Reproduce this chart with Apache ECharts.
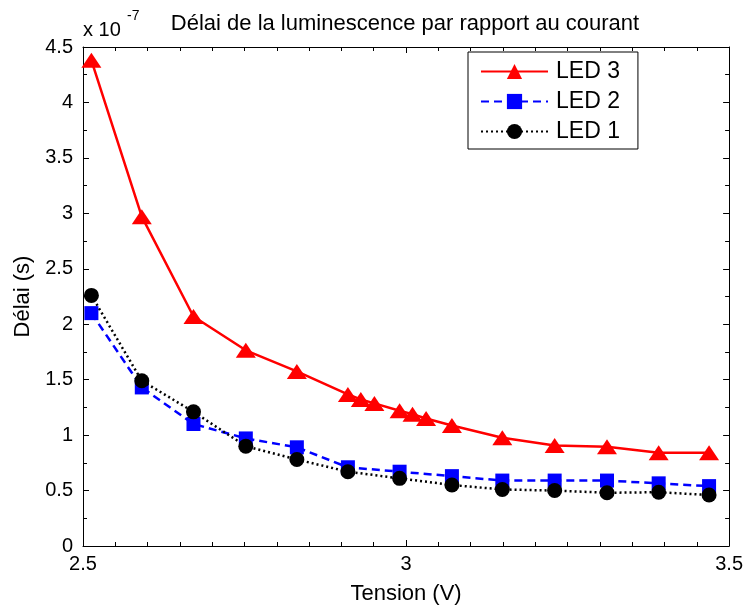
<!DOCTYPE html>
<html>
<head>
<meta charset="utf-8">
<script src="https://cdn.jsdelivr.net/npm/echarts@6/dist/echarts.min.js"></script>
<style>
html,body{margin:0;padding:0;background:#fff;}
#chart{width:746px;height:610px;}
</style>
</head>
<body>
<div id="chart"></div>
<script>
// Data (delay in units of 1e-7 s)
const tensionLed12 = [2.513, 2.591, 2.671, 2.752, 2.831, 2.910, 2.990, 3.071, 3.149, 3.230, 3.311, 3.391, 3.469];
const led1 = [2.26, 1.49, 1.21, 0.90, 0.78, 0.67, 0.61, 0.55, 0.51, 0.50, 0.48, 0.485, 0.46];
const led2 = [2.10, 1.43, 1.10, 0.97, 0.89, 0.71, 0.67, 0.63, 0.59, 0.59, 0.59, 0.565, 0.54];
const tensionLed3 = [2.513, 2.591, 2.671, 2.752, 2.831, 2.910, 2.930, 2.951, 2.990, 3.010, 3.031, 3.071, 3.149, 3.230, 3.311, 3.391, 3.469];
const led3 = [4.38, 2.97, 2.07, 1.765, 1.574, 1.367, 1.322, 1.286, 1.22, 1.189, 1.15, 1.086, 0.976, 0.906, 0.894, 0.84, 0.84];
const seriesNames = ['LED 3', 'LED 2', 'LED 1'];
const titleText = 'Délai de la luminescence par rapport au courant';
const xName = 'Tension (V)';
const yName = 'Délai (s)';

const FONT = '"Liberation Sans", Arial, Helvetica, sans-serif';
const pairs = (xs, ys) => xs.map((x, i) => [x, ys[i]]);

const chart = echarts.init(document.getElementById('chart'), null, {renderer: 'canvas'});

const axisCommon = {
  axisLine: {show: true, onZero: false, lineStyle: {color: '#000', width: 1}},
  axisTick: {show: true, inside: true, length: 6, lineStyle: {color: '#000', width: 1}},
  minorTick: {show: true, length: 4, lineStyle: {color: '#000', width: 1}},
  splitLine: {show: false},
};

const option = {
  animation: false,
  backgroundColor: '#fff',
  textStyle: {fontFamily: FONT},
  grid: {left: 83, right: 16, top: 47, bottom: 63, containLabel: false},
  graphic: [
    {type: 'text', x: 405, y: 23.5, style: {text: titleText, font: '22px ' + FONT, fill: '#000', align: 'center', verticalAlign: 'middle'}},
    {type: 'text', x: 83, y: 30.5, style: {text: 'x 10', font: '20px ' + FONT, fill: '#000', align: 'left', verticalAlign: 'middle'}},
    {type: 'text', x: 127, y: 16.5, style: {text: '-7', font: '14px ' + FONT, fill: '#000', align: 'left', verticalAlign: 'middle'}}
  ],
  legend: {
    data: seriesNames,
    orient: 'vertical',
    left: 468,
    top: 52,
    padding: [8, 18, 6, 12],
    itemGap: 7,
    itemWidth: 67,
    itemHeight: 19,
    borderColor: '#000',
    borderWidth: 1,
    borderRadius: 0,
    backgroundColor: '#fff',
    textStyle: {fontSize: 23, color: '#000', fontFamily: FONT, padding: [0, 0, 0, 3]}
  },
  xAxis: [
    Object.assign({}, axisCommon, {
      type: 'value', position: 'bottom', min: 2.5, max: 3.5, interval: 0.5,
      minorTick: Object.assign({}, axisCommon.minorTick, {splitNumber: 10}),
      axisLabel: {show: true, fontSize: 20, color: '#000', margin: 8, fontFamily: FONT, showMinLabel: true, showMaxLabel: true},
      name: xName, nameLocation: 'middle', nameGap: 37,
      nameTextStyle: {fontSize: 22, color: '#000', fontFamily: FONT}
    }),
    Object.assign({}, axisCommon, {
      type: 'value', position: 'top', min: 2.5, max: 3.5, interval: 0.5,
      minorTick: Object.assign({}, axisCommon.minorTick, {splitNumber: 10}),
      axisLabel: {show: false}
    })
  ],
  yAxis: [
    Object.assign({}, axisCommon, {
      type: 'value', position: 'left', min: 0, max: 4.5, interval: 0.5,
      minorTick: Object.assign({}, axisCommon.minorTick, {splitNumber: 2}),
      axisLabel: {show: true, fontSize: 20, color: '#000', margin: 10, fontFamily: FONT},
      name: yName, nameLocation: 'middle', nameGap: 45,
      nameTextStyle: {fontSize: 22, color: '#000', fontFamily: FONT}
    }),
    Object.assign({}, axisCommon, {
      type: 'value', position: 'right', min: 0, max: 4.5, interval: 0.5,
      minorTick: Object.assign({}, axisCommon.minorTick, {splitNumber: 2}),
      axisLabel: {show: false}
    })
  ],
  series: [
    {
      name: seriesNames[0], type: 'line', xAxisIndex: 0, yAxisIndex: 0,
      data: pairs(tensionLed3, led3),
      symbol: 'triangle', symbolSize: [20, 15],
      lineStyle: {color: '#ff0000', width: 2.5, type: 'solid'},
      itemStyle: {color: '#ff0000', borderWidth: 0},
      z: 2
    },
    {
      name: seriesNames[1], type: 'line', xAxisIndex: 0, yAxisIndex: 0,
      data: pairs(tensionLed12, led2),
      symbol: 'rect', symbolSize: 14,
      lineStyle: {color: '#0000ff', width: 2.5, type: [8, 5]},
      itemStyle: {color: '#0000ff', borderWidth: 0},
      z: 3
    },
    {
      name: seriesNames[2], type: 'line', xAxisIndex: 0, yAxisIndex: 0,
      data: pairs(tensionLed12, led1),
      symbol: 'circle', symbolSize: 15,
      lineStyle: {color: '#000000', width: 2.5, type: [2, 3]},
      itemStyle: {color: '#000000', borderWidth: 0},
      z: 4
    }
  ]
};
chart.setOption(option);
</script>
</body>
</html>
